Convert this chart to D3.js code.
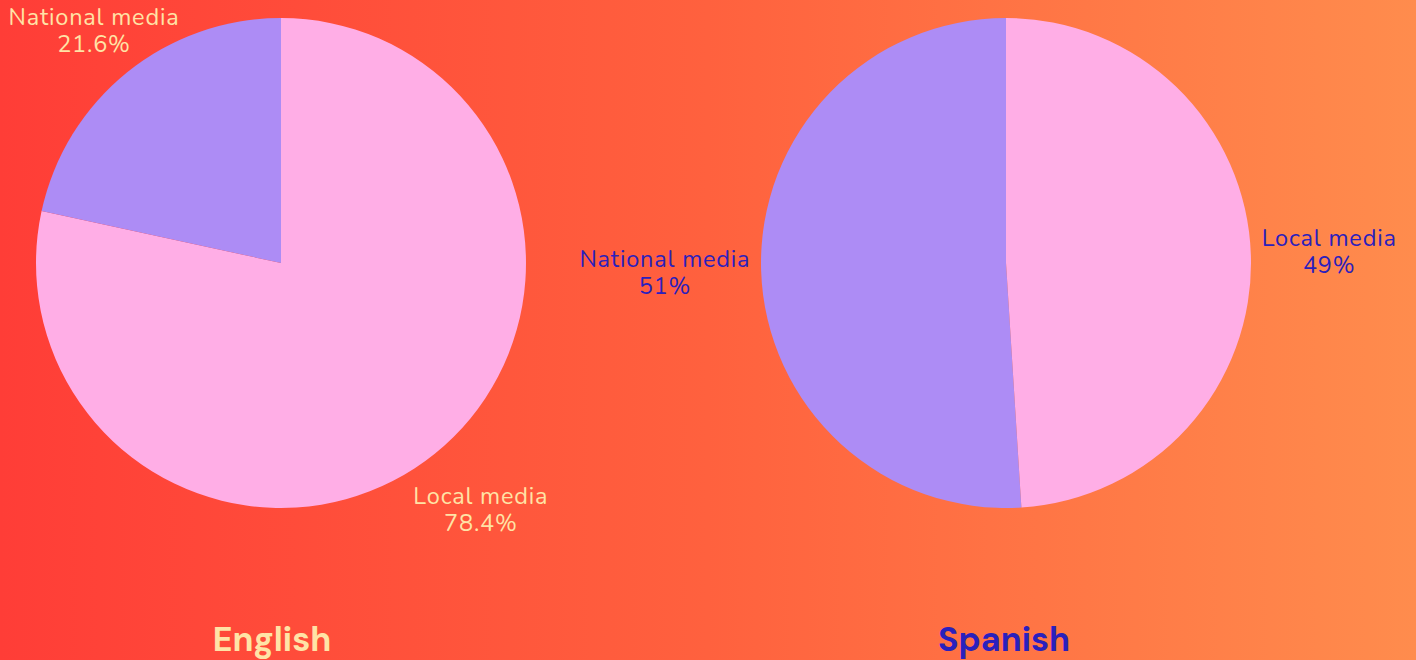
<!DOCTYPE html>
<html>
<head>
<meta charset="utf-8">
<script src="https://cdn.jsdelivr.net/npm/d3@7"></script>
<style>
  html, body { margin: 0; padding: 0; }
  body { width: 1416px; height: 660px; overflow: hidden; }
  svg { display: block; }
</style>
</head>
<body>
<svg id="chart" width="1416" height="660"></svg>
<script>
// Share of coverage by media type, per language
const languages = ["English", "Spanish"];
const mediaTypes = ["Local media", "National media"];
const englishShares = [78.4, 21.6];
const spanishShares = [49, 51];
const shareLabels = [["78.4%", "21.6%"], ["49%", "51%"]];

const W = 1416, H = 660;
const svg = d3.select("#chart");

// Warm horizontal gradient behind both pies
const defs = svg.append("defs");
const grad = defs.append("linearGradient").attr("id", "bg").attr("x1", "0%").attr("x2", "100%").attr("y1", "0%").attr("y2", "0%");
grad.append("stop").attr("offset", "0%").attr("stop-color", "#ff3d37");
grad.append("stop").attr("offset", "50%").attr("stop-color", "#ff613e");
grad.append("stop").attr("offset", "100%").attr("stop-color", "#ff8c4d");
svg.append("rect").attr("width", W).attr("height", H).attr("fill", "url(#bg)");

const color = d3.scaleOrdinal().domain(mediaTypes).range(["#ffaee6", "#ad8cf5"]);

const panels = [
  { name: languages[0], values: englishShares, labels: shareLabels[0], cx: 281, cy: 263, titleX: 272, ink: "#ffe3a6" },
  { name: languages[1], values: spanishShares, labels: shareLabels[1], cx: 1006, cy: 263, titleX: 1004, ink: "#2a20bd" }
];

const radius = 245;
const pie = d3.pie().sort(null).value(d => d.value);
const arc = d3.arc().innerRadius(0).outerRadius(radius);

const labelFont = "Nunito, Lato, 'Noto Sans', sans-serif";
const labelSize = 23.5, lineH = 27, gap = 10, topMargin = 4;

panels.forEach(p => {
  const data = mediaTypes.map((m, i) => ({ type: m, value: p.values[i], text: p.labels[i] }));
  const g = svg.append("g").attr("transform", `translate(${p.cx},${p.cy})`);

  const arcs = pie(data);
  g.selectAll("path").data(arcs).join("path")
    .attr("d", arc)
    .attr("fill", d => color(d.data.type));

  // Outside labels, pushed out along each slice's mid-angle
  arcs.forEach(a => {
    const mid = (a.startAngle + a.endAngle) / 2;
    const ux = Math.sin(mid), uy = -Math.cos(mid);
    const t = g.append("text")
      .attr("text-anchor", "middle")
      .attr("fill", p.ink)
      .style("font-family", labelFont)
      .style("font-size", labelSize + "px")
      .style("letter-spacing", "0.8px");
    const l1 = t.append("tspan").attr("x", 0).text(a.data.type);
    const l2 = t.append("tspan").attr("x", 0).text(a.data.text);
    const w = Math.max(l1.node().getComputedTextLength(), l2.node().getComputedTextLength());
    const hw = w / 2, hh = lineH;
    let R = radius + gap + Math.abs(ux) * hw + Math.abs(uy) * hh;
    // keep the label box inside the top edge
    if (p.cy + uy * R - hh < topMargin && uy < 0) {
      R = (p.cy - hh - topMargin) / -uy;
    }
    const x = ux * R, y = uy * R;
    l1.attr("x", x).attr("y", y - lineH / 2 + 7);
    l2.attr("x", x).attr("y", y + lineH / 2 + 7);
  });

  svg.append("text")
    .attr("x", p.titleX).attr("y", 651)
    .attr("text-anchor", "middle")
    .attr("fill", p.ink)
    .style("font-family", "'DM Sans', Lato, 'Open Sans', sans-serif")
    .style("font-weight", 700)
    .style("font-size", "34px")
    .text(p.name);
});
</script>
</body>
</html>
